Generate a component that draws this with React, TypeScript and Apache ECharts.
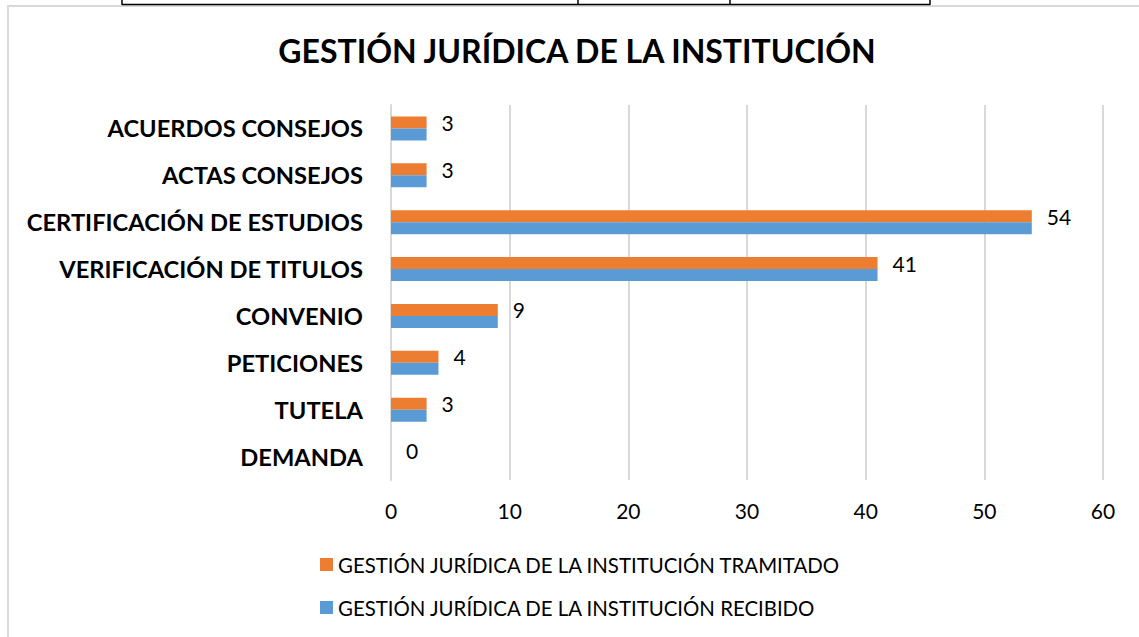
import React, { useEffect, useRef } from "react";
import * as echarts from "echarts";

const categories = [
  "ACUERDOS CONSEJOS",
  "ACTAS CONSEJOS",
  "CERTIFICACIÓN DE ESTUDIOS",
  "VERIFICACIÓN DE TITULOS",
  "CONVENIO",
  "PETICIONES",
  "TUTELA",
  "DEMANDA",
];
const tramitado = [3, 3, 54, 41, 9, 4, 3, 0];
const recibido = [3, 3, 54, 41, 9, 4, 3, 0];
const seriesNames = [
  "GESTIÓN JURÍDICA DE LA INSTITUCIÓN TRAMITADO",
  "GESTIÓN JURÍDICA DE LA INSTITUCIÓN RECIBIDO",
];
const title = "GESTIÓN JURÍDICA DE LA INSTITUCIÓN";

export default function App() {
  const ref = useRef<HTMLDivElement>(null);
  useEffect(() => {
    if (!ref.current) return;
    const chart = echarts.init(ref.current, null, { renderer: "svg" });
    const font = "Lato";
    chart.setOption({
      animation: false,
      backgroundColor: "#ffffff",
      title: {
        text: title,
        left: 572,
        textAlign: "center",
        top: 29,
        textStyle: { fontFamily: font, fontWeight: "bold", fontSize: 32, color: "#000" },
      },
      grid: { left: 391, right: 36, top: 105, bottom: 157 },
      xAxis: {
        type: "value",
        min: 0,
        max: 60,
        interval: 10,
        axisLine: { show: false },
        axisTick: { show: false },
        splitLine: { lineStyle: { color: "#D9D9D9", width: 2 } },
        axisLabel: { fontFamily: font, fontSize: 21, color: "#000", margin: 20 },
      },
      yAxis: {
        type: "category",
        data: categories,
        inverse: true,
        axisLine: { show: true, lineStyle: { color: "#D9D9D9", width: 2 } },
        axisTick: { show: false },
        axisLabel: { fontFamily: font, fontSize: 23.7, fontWeight: "bold", color: "#000", margin: 28 },
      },
      legend: {
        orient: "vertical",
        left: 315,
        top: 549,
        icon: "rect",
        itemWidth: 13,
        itemHeight: 13,
        itemGap: 22,
        textStyle: { fontFamily: font, fontSize: 20.4, color: "#000", lineHeight: 21 },
        data: seriesNames,
      },
      series: [
        {
          name: seriesNames[0],
          type: "bar",
          data: tramitado,
          barWidth: 12,
          barGap: "0%",
          itemStyle: { color: "#ED7D31" },
          label: { show: true, position: "right", distance: 15, fontFamily: font, fontSize: 21, color: "#000" },
        },
        {
          name: seriesNames[1],
          type: "bar",
          data: recibido,
          barWidth: 12,
          barGap: "0%",
          itemStyle: { color: "#5B9BD5" },
        },
      ],
      graphic: [
        { type: "rect", shape: { x: 8, y: 6, width: 1200, height: 700 }, style: { fill: "none", stroke: "#D9D9D9", lineWidth: 2 } },
        { type: "line", shape: { x1: 122, y1: 4.5, x2: 930, y2: 4.5 }, style: { stroke: "#000", lineWidth: 1.5 } },
        { type: "line", shape: { x1: 122, y1: 0, x2: 122, y2: 5 }, style: { stroke: "#000", lineWidth: 1.5 } },
        { type: "line", shape: { x1: 578, y1: 0, x2: 578, y2: 5 }, style: { stroke: "#000", lineWidth: 1.5 } },
        { type: "line", shape: { x1: 730, y1: 0, x2: 730, y2: 5 }, style: { stroke: "#000", lineWidth: 1.5 } },
        { type: "line", shape: { x1: 930, y1: 0, x2: 930, y2: 5 }, style: { stroke: "#000", lineWidth: 1.5 } },
      ],
    });
    return () => chart.dispose();
  }, []);
  return (
    <div
      ref={ref}
      style={{ position: "fixed", left: 0, top: 0, width: 1139, height: 637 }}
    />
  );
}
